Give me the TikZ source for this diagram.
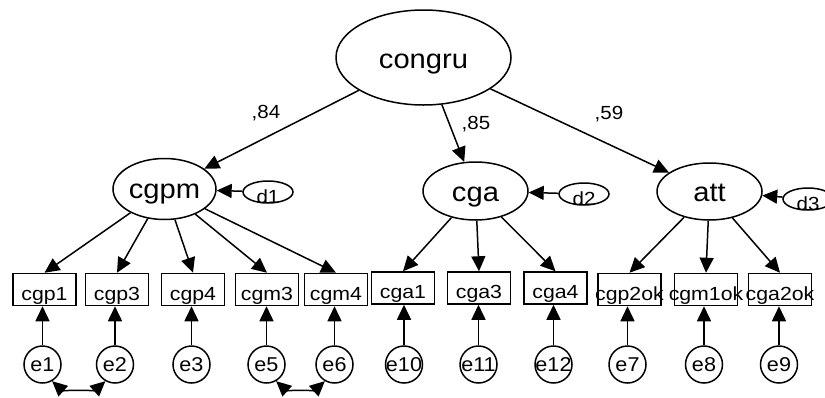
\documentclass[tikz,border=0pt]{standalone}
\usepackage{fontspec}
\setmainfont{Liberation Sans}
\usetikzlibrary{arrows.meta,shapes.geometric}
\newcommand{\tx}[3][1.08]{\raisebox{#2}[0pt][0pt]{\makebox[0pt]{\scalebox{#1}[1]{#3}}}}
\begin{document}
\begin{tikzpicture}[x=1pt,y=-1pt,
  lat/.style={ellipse,draw,line width=1.5pt,inner sep=0pt,font=\fontsize{27}{27}\selectfont},
  dist/.style={ellipse,draw,line width=1.5pt,inner sep=0pt,minimum width=50pt,minimum height=22pt,font=\fontsize{19}{19}\selectfont},
  obs/.style={rectangle,draw,line width=1.5pt,inner sep=0pt,minimum width=63pt,minimum height=32pt,font=\fontsize{19}{19}\selectfont},
  err/.style={circle,draw,line width=1.5pt,inner sep=0pt,minimum size=37pt,font=\fontsize{20}{20}\selectfont},
  coef/.style={inner sep=0pt,font=\fontsize{19}{19}\selectfont},
  arr/.style={line width=1.5pt,-{Triangle[length=15pt,width=14pt]}},
  cov/.style={line width=1.5pt,{Triangle[length=15pt,width=14pt]}-{Triangle[length=15pt,width=14pt]}}]
\useasboundingbox (0,0) rectangle (825,397);
\clip (0,0) rectangle (825,397);
\fill[white] (0,0) rectangle (825,397);

% latent variables
\node[lat,minimum width=175pt,minimum height=95pt] (congru) at (423.5,57.5) {\tx{-11pt}{congru}};
\node[lat,minimum width=103pt,minimum height=61pt] (cgpm) at (164.5,189) {\tx{-9pt}{cgpm}};
\node[lat,minimum width=105pt,minimum height=58pt] (cga) at (475.5,191) {\tx{-10pt}{cga}};
\node[lat,minimum width=105pt,minimum height=57pt] (att) at (709.5,191.5) {\tx{-10pt}{att}};

% disturbances
\node[dist] (d1) at (268,192) {\tx{-11pt}{d1}};
\node[dist] (d2) at (584,194) {\tx{-11pt}{d2}};
\node[dist] (d3) at (808,199) {\tx{-11pt}{d3}};

% observed variables
\node[obs] (cgp1) at (44.5,289.5) {\tx[1.12]{-10.5pt}{cgp1}};
\node[obs] (cgp3) at (117,289.5) {\tx[1.12]{-10.5pt}{cgp3}};
\node[obs] (cgp4) at (193,289.5) {\tx[1.12]{-10.5pt}{cgp4}};
\node[obs] (cgm3) at (267,289.5) {\tx[1.12]{-10.5pt}{cgm3}};
\node[obs] (cgm4) at (336,289.5) {\tx[1.12]{-10.5pt}{cgm4}};
\node[obs] (cga1) at (403,288) {\tx[1.12]{-10.5pt}{cga1}};
\node[obs] (cga3) at (479,288) {\tx[1.12]{-10.5pt}{cga3}};
\node[obs] (cga4) at (555.5,288) {\tx[1.12]{-10.5pt}{cga4}};
\node[obs] (cgp2ok) at (629.5,289.5) {\tx[1.12]{-10.5pt}{cgp2ok}};
\node[obs] (cgm1ok) at (706,289.5) {\tx[1.12]{-10.5pt}{cgm1ok}};
\node[obs] (cga2ok) at (780,289.5) {\tx[1.12]{-10.5pt}{cga2ok}};

% errors
\node[err] (e1) at (42.5,364.5) {\tx{-6.5pt}{e1}};
\node[err] (e2) at (115,364.5) {\tx{-6.5pt}{e2}};
\node[err] (e3) at (191.5,364.5) {\tx{-6.5pt}{e3}};
\node[err] (e5) at (266.5,364.5) {\tx{-6.5pt}{e5}};
\node[err] (e6) at (334.5,364.5) {\tx{-6.5pt}{e6}};
\node[err] (e10) at (404,364.5) {\tx{-6.5pt}{e10}};
\node[err] (e11) at (478.5,364.5) {\tx{-6.5pt}{e11}};
\node[err] (e12) at (553.5,364.5) {\tx{-6.5pt}{e12}};
\node[err] (e7) at (627.5,364.5) {\tx{-6.5pt}{e7}};
\node[err] (e8) at (704,364.5) {\tx{-6.5pt}{e8}};
\node[err] (e9) at (779,364.5) {\tx{-6.5pt}{e9}};

% coefficients
\node[coef] (l84) at (266,113) {\scalebox{1.08}[1]{,84}};
\node[coef] (l85) at (476,124) {\scalebox{1.08}[1]{,85}};
\node[coef] (l59) at (609,114) {\scalebox{1.08}[1]{,59}};

% structural paths
\draw[arr] (congru) -- (cgpm);
\draw[arr] (congru) -- (cga);
\draw[arr] (congru) -- (att);
\draw[arr] (d1) -- (cgpm);
\draw[arr] (d2) -- (cga);
\draw[arr] (d3) -- (att);

% loadings
\foreach \b in {cgp1,cgp3,cgp4,cgm3,cgm4} \draw[arr] (cgpm) -- (\b.north);
\foreach \b in {cga1,cga3,cga4} \draw[arr] (cga) -- (\b.north);
\foreach \b in {cgp2ok,cgm1ok,cga2ok} \draw[arr] (att) -- (\b.north);

% error paths
\foreach \e/\b in {e1/cgp1,e2/cgp3,e3/cgp4,e5/cgm3,e6/cgm4,e10/cga1,e11/cga3,e12/cga4,e7/cgp2ok,e8/cgm1ok,e9/cga2ok}
  \draw[arr] (\e) -- (\e |- \b.south);

% covariances
\draw[cov] (e1.-60) .. controls +(10,9) and +(-10,9) .. (e2.-120);
\draw[cov] (e5.-60) .. controls +(10,9) and +(-10,9) .. (e6.-120);
\end{tikzpicture}
\end{document}
